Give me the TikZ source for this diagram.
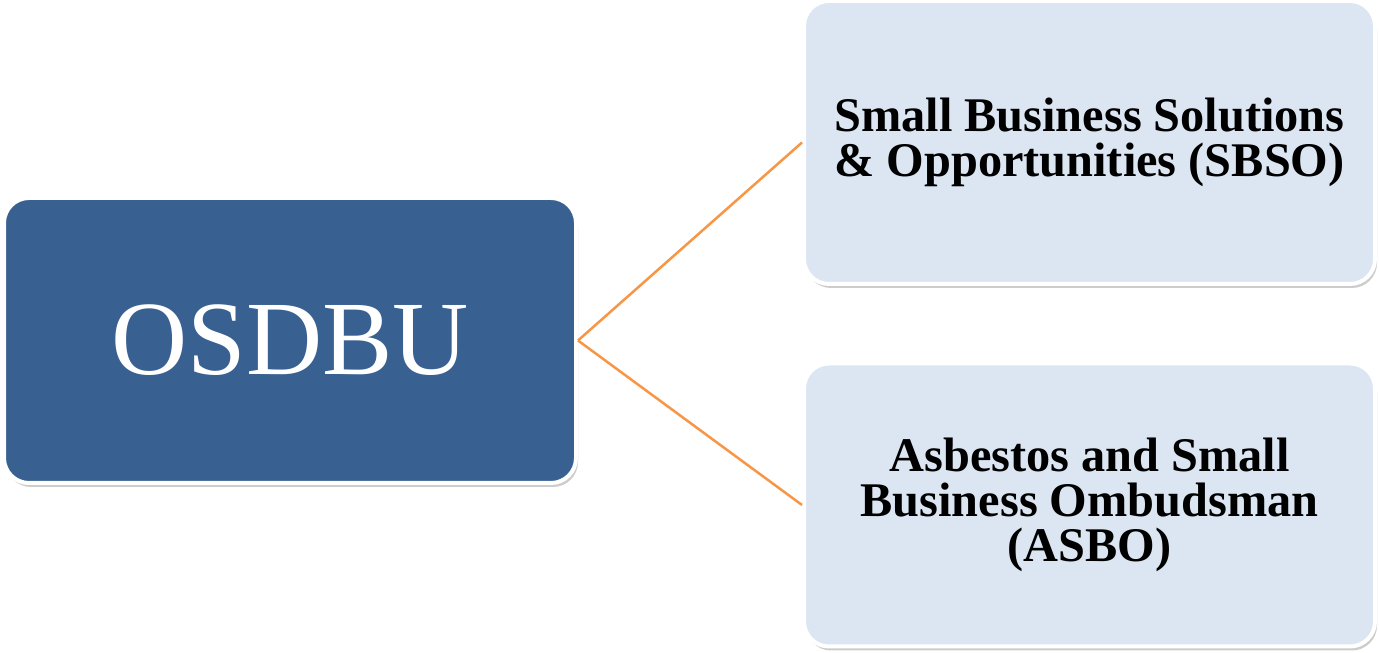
\documentclass[tikz,border=0pt]{standalone}
\usepackage{fontspec}
\setmainfont{Liberation Serif}
\usetikzlibrary{positioning,shadows}
\definecolor{osdbublue}{RGB}{56,96,145}
\definecolor{unitblue}{RGB}{220,230,242}
\definecolor{linkorange}{RGB}{247,150,70}

\begin{document}
\begin{tikzpicture}[every node/.style={font=\bfseries\fontsize{27.5}{25.5}\selectfont},
    unit/.style={draw=white, line width=0.08cm, rounded corners=0.5cm, fill=unitblue,
        minimum width=11.42cm, minimum height=5.66cm, align=center,
        drop shadow={shadow xshift=0.04cm, shadow yshift=-0.08cm, opacity=0.4}},
    link/.style={linkorange, line width=0.05cm}]
    \useasboundingbox (0,0) rectangle (27.58,13.06);
    \node[unit, fill=osdbublue, text=white, minimum width=11.44cm, minimum height=5.70cm,
        font=\fontsize{60}{70}\selectfont] (osdbu) at (5.8,6.25) {OSDBU};
    \node[unit] (sbso) at (21.79,10.21) {Small Business Solutions\\\& Opportunities (SBSO)};
    \node[unit] (asbo) at (21.79,2.96) {Asbestos and Small\\Business Ombudsman\\(ASBO)};
    % connectors
    \draw[link] (osdbu.east) -- (sbso.west);
    \draw[link] (osdbu.east) -- (asbo.west);
\end{tikzpicture}
\end{document}
